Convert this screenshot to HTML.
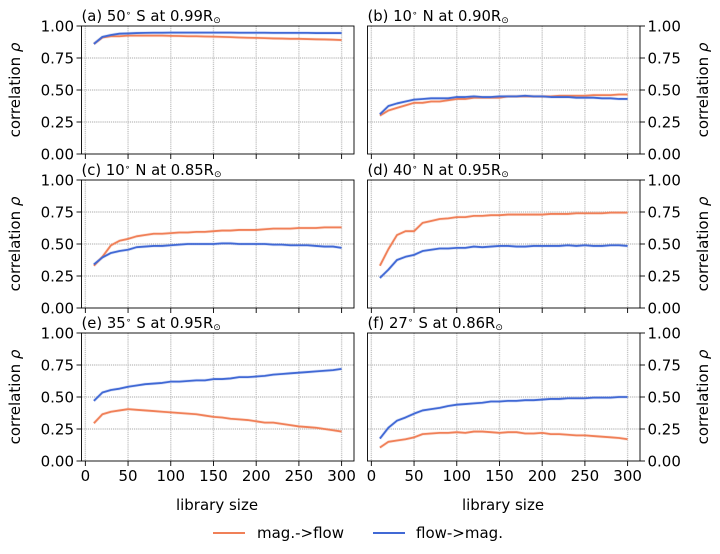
<!DOCTYPE html>
<html>
<head>
<meta charset="utf-8">
<style>
html,body{margin:0;padding:0;background:#fff;}
svg{display:block;}
text{font-family:"DejaVu Sans","Liberation Sans",sans-serif;fill:#000;}
</style>
</head>
<body>
<svg id="fig" width="720" height="554" viewBox="0 0 720 554" xmlns="http://www.w3.org/2000/svg">
<rect width="720" height="554" fill="#fff"/>
<text x="217" y="510" font-size="15" text-anchor="middle">library size</text>
<text x="503" y="510" font-size="15" text-anchor="middle">library size</text>
<line x1="213" x2="245" y1="533" y2="533" stroke="#f08058" stroke-width="2"/>
<text x="257" y="538" font-size="15">mag.-&gt;flow</text>
<line x1="373" x2="405" y1="533" y2="533" stroke="#4169d5" stroke-width="2"/>
<text x="416" y="538" font-size="15">flow-&gt;mag.</text>
</svg>
<script>
const librarySizes = [10,20,30,40,50,60,70,80,90,100,110,120,130,140,150,160,170,180,190,200,210,220,230,240,250,260,270,280,290,300];
const xTicks = [0,50,100,150,200,250,300];
const yTicks = [0,0.25,0.5,0.75,1];
const yTickLabels = ['0.00','0.25','0.50','0.75','1.00'];

const magA = [.86,.91,.92,.92,.925,.925,.925,.925,.925,.923,.922,.92,.92,.918,.917,.915,.913,.91,.908,.907,.905,.903,.902,.90,.90,.898,.896,.895,.893,.89];
const flowA = [.86,.915,.93,.94,.942,.945,.946,.947,.947,.948,.948,.948,.948,.948,.948,.948,.948,.947,.947,.947,.947,.946,.946,.946,.946,.946,.945,.945,.945,.945];
const magB = [.30,.34,.36,.38,.40,.40,.41,.41,.42,.43,.43,.44,.44,.44,.44,.45,.45,.45,.45,.45,.45,.455,.455,.455,.455,.46,.46,.46,.465,.465];
const flowB = [.31,.375,.395,.41,.425,.43,.435,.435,.435,.445,.445,.45,.445,.445,.45,.45,.45,.455,.45,.45,.445,.445,.445,.44,.44,.44,.435,.435,.43,.43];
const magC = [.33,.40,.49,.525,.54,.56,.57,.58,.58,.585,.59,.59,.595,.595,.60,.605,.605,.61,.61,.61,.615,.62,.62,.62,.625,.625,.625,.63,.63,.63];
const flowC = [.34,.395,.43,.445,.455,.475,.48,.485,.485,.49,.495,.50,.50,.50,.50,.505,.505,.50,.50,.50,.50,.495,.495,.49,.49,.49,.485,.48,.48,.47];
const magD = [.33,.46,.57,.60,.60,.665,.68,.695,.70,.71,.71,.72,.72,.725,.725,.73,.73,.73,.73,.73,.735,.735,.735,.74,.74,.74,.74,.745,.745,.745];
const flowD = [.235,.30,.375,.40,.415,.445,.455,.465,.465,.47,.47,.48,.475,.48,.485,.485,.48,.48,.485,.485,.485,.485,.49,.485,.49,.485,.485,.49,.49,.485];
const magE = [.295,.365,.385,.395,.405,.40,.395,.39,.385,.38,.375,.37,.365,.355,.345,.34,.33,.325,.32,.31,.30,.30,.29,.28,.27,.265,.26,.25,.24,.23];
const flowE = [.47,.535,.555,.565,.58,.59,.60,.605,.61,.62,.62,.625,.63,.63,.64,.64,.645,.655,.655,.66,.665,.675,.68,.685,.69,.695,.70,.705,.71,.72];
const magF = [.105,.15,.16,.17,.185,.21,.215,.22,.22,.225,.22,.23,.23,.225,.22,.225,.225,.215,.215,.22,.21,.21,.205,.20,.20,.195,.19,.185,.18,.17];
const flowF = [.175,.26,.315,.34,.37,.395,.405,.415,.43,.44,.445,.45,.455,.465,.465,.47,.47,.475,.475,.48,.485,.485,.49,.49,.49,.495,.495,.495,.50,.50];

const panelTitles = ['(a) 50|S at 0.99R','(b) 10|N at 0.90R','(c) 10|N at 0.85R','(d) 40|N at 0.95R','(e) 35|S at 0.95R','(f) 27|S at 0.86R'];
const magSeries = [magA,magB,magC,magD,magE,magF];
const flowSeries = [flowA,flowB,flowC,flowD,flowE,flowF];

const NS = 'http://www.w3.org/2000/svg';
const fig = document.getElementById('fig');
function mk(tag, attrs, parent){
  const el = document.createElementNS(NS, tag);
  for (const k in attrs) el.setAttribute(k, attrs[k]);
  (parent || fig).appendChild(el);
  return el;
}
const AXW = 272.5, AXH = 128;
const LEFTS = [81.5, 367.5];
const TOPS = [26, 180, 333];
const xMax = 314.5, xMin = -4.5;
const GRID = '#c6c6c6';

function drawPanel(i){
  const col = i % 2, row = Math.floor(i / 2);
  const L = LEFTS[col], T = TOPS[row], R = L + AXW, B = T + AXH;
  const sx = v => L + (v - xMin) / (xMax - xMin) * AXW;
  const sy = v => B - v * AXH;

  const g = mk('g', {});
  
  

  xTicks.forEach(t => {
    const gl = mk('line', {x1:sx(t), x2:sx(t), y1:T, y2:B, stroke:GRID, 'stroke-width':1.4, 'stroke-dasharray':'1.2 0.9'}, g);
    
    
    const tk = mk('line', {x1:sx(t), x2:sx(t), y1:B, y2:B+5, stroke:'#000', 'stroke-width':0.9}, g);
    
    
    if (row === 2) {
      const tl = mk('text', {x:sx(t), y:B+20, 'font-size':15, 'text-anchor':'middle'}, g);
      
      
      tl.textContent = String(t);
    }
  });

  yTicks.forEach((t, k) => {
    if (t > 0 && t < 1) {
      const gl = mk('line', {x1:L, x2:R, y1:sy(t), y2:sy(t), stroke:GRID, 'stroke-width':1.4, 'stroke-dasharray':'1.2 0.9'}, g);
      
      
    }
    const x1 = col === 0 ? L - 5 : R;
    const tk = mk('line', {x1:x1, x2:x1 + 5, y1:sy(t), y2:sy(t), stroke:'#000', 'stroke-width':0.9}, g);
    
    
    const tl = mk('text', {x: col === 0 ? L - 7.5 : R + 7.5, y: sy(t) + 5.5, 'font-size':15, 'text-anchor': col === 0 ? 'end' : 'start'}, g);
    
    
    tl.textContent = yTickLabels[k];
  });

  const yc = (T + B) / 2;
  const yx = col === 0 ? 20 : 708;
  const yl = mk('text', {x:yx, y:yc, 'font-size':15, 'text-anchor':'middle', transform:'rotate(-90 ' + yx + ' ' + yc + ')'}, g);
  
  
  yl.appendChild(document.createTextNode('correlation '));
  const rho = mk('tspan', {'font-style':'italic'}, yl);
  rho.textContent = 'ρ';

  const toPts = arr => arr.map((v, n) => sx(librarySizes[n]).toFixed(2) + ',' + sy(v).toFixed(2)).join(' ');
  [[magSeries[i], '#f08058', 'mag-flow-line'], [flowSeries[i], '#4169d5', 'flow-mag-line']].forEach(s => {
    const band = mk('polyline', {points:toPts(s[0]), fill:'none', stroke:s[1], 'stroke-opacity':0.2, 'stroke-width':3.2, 'stroke-linejoin':'round'}, g);
    
    
    const ln = mk('polyline', {points:toPts(s[0]), fill:'none', stroke:s[1], 'stroke-width':1.8, 'stroke-linejoin':'round'}, g);
    
    
  });

  const fr = mk('rect', {x:L, y:T, width:AXW, height:AXH, fill:'none', stroke:'#000', 'stroke-width':0.9}, g);
  
  

  const parts = panelTitles[i].split('|');
  const ti = mk('text', {x:L, y:T - 5, 'font-size':14.8}, g);
  
  
  ti.appendChild(document.createTextNode(parts[0]));
  const deg = mk('tspan', {'font-size':9, dy:-5}, ti);
  deg.textContent = '∘';
  const rest = mk('tspan', {dy:5, dx:5}, ti);
  rest.textContent = parts[1];
  const sun = mk('tspan', {'font-size':9, dy:2}, ti);
  sun.textContent = '⊙';
}
for (let i = 0; i < 6; i++) drawPanel(i);
</script>
</body>
</html>
